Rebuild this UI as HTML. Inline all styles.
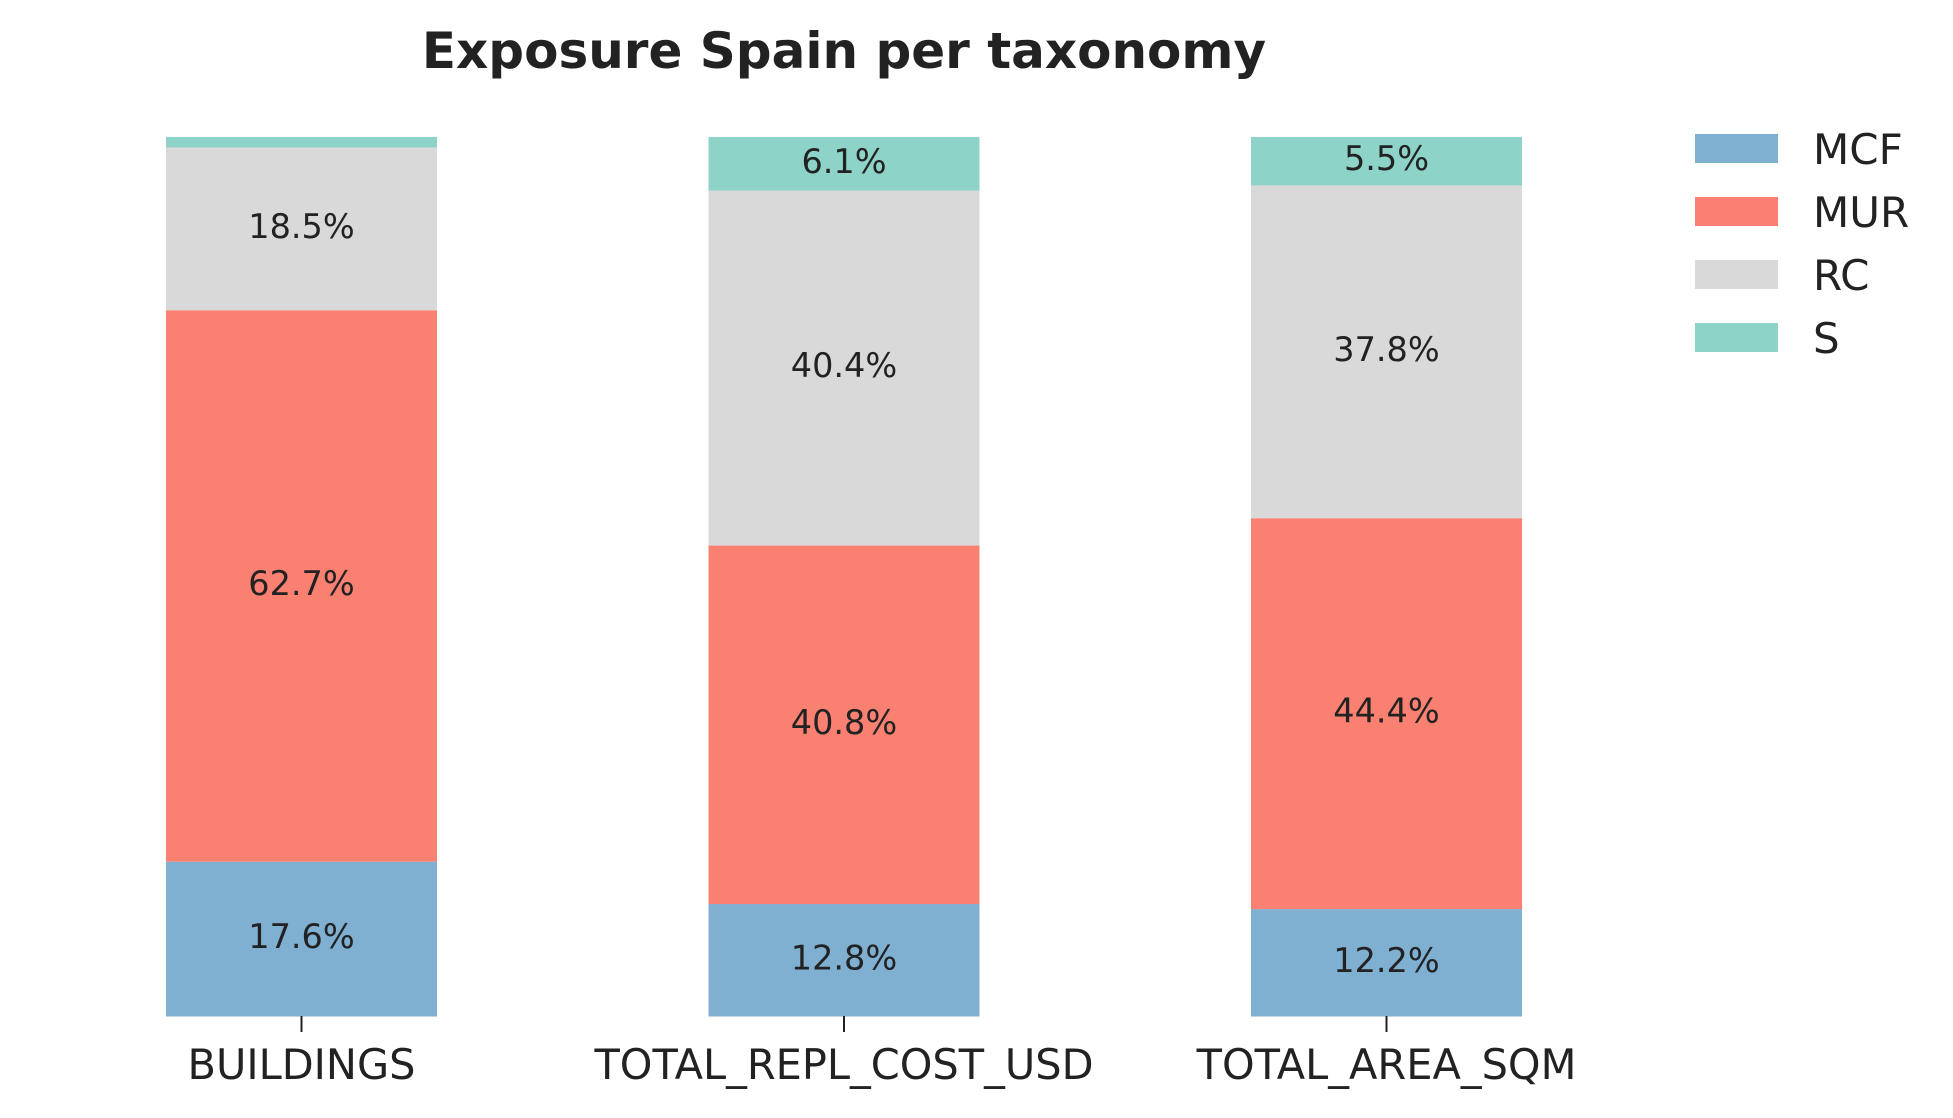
<!DOCTYPE html>
<html><head><meta charset="utf-8"><style>
body{margin:0;background:#fff;}
svg{display:block;font-family:"DejaVu Sans","Liberation Sans",sans-serif;}
</style></head><body>
<svg id="chart" width="1953" height="1118" viewBox="0 0 1953 1118">
<text x="844" y="68" text-anchor="middle" font-size="50" font-weight="bold" fill="#222">Exposure Spain per taxonomy</text>
<g id="bars"></g>
<g id="legend"></g>
</svg>
<script>
const categories = ["BUILDINGS", "TOTAL_REPL_COST_USD", "TOTAL_AREA_SQM"];
const seriesNames = ["MCF", "MUR", "RC", "S"];
const mcf = [17.6, 12.8, 12.2];
const mur = [62.7, 40.8, 44.4];
const rc = [18.5, 40.4, 37.8];
const s = [1.2, 6.1, 5.5];
const colors = ["#7fafd1", "#fa8072", "#d9d9d9", "#8dd3c7"];
(function(){
const NS = "http://www.w3.org/2000/svg";
const yBottom = 1016.5, yTop = 137;
const yScale = v => (yBottom - yTop) * v / 100;
const xCenter = i => 301.5 + i * 542.5;
const barW = 271;
const series = [mcf, mur, rc, s];
const gb = document.getElementById('bars');

function mk(tag, attrs) {
  const e = document.createElementNS(NS, tag);
  for (const k in attrs) e.setAttribute(k, attrs[k]);
  return e;
}

categories.forEach((cat, i) => {
  let total = 0;
  series.forEach(arr => total += arr[i]);
  let acc = 0;
  series.forEach((arr, j) => {
    const v = arr[i] / total * 100;
    const h = yScale(v);
    const y = yBottom - yScale(acc) - h;
    const r = mk('rect', {x: xCenter(i) - barW / 2, y: y, width: barW, height: h, fill: colors[j]});
    
    
    gb.appendChild(r);
    if (arr[i] >= 3) {
      const t = mk('text', {x: xCenter(i), y: y + h / 2 + 9, 'text-anchor': 'middle', 'font-size': 33.5, fill: '#222'});
      t.textContent = arr[i].toFixed(1) + '%';
      
      
      gb.appendChild(t);
    }
    acc += v;
  });
  const tick = mk('line', {x1: xCenter(i), x2: xCenter(i), y1: 1016, y2: 1032, stroke: '#222', 'stroke-width': 2});
  
  
  gb.appendChild(tick);
  const lab = mk('text', {x: xCenter(i), y: 1079, 'text-anchor': 'middle', 'font-size': 41.5, fill: '#222'});
  lab.textContent = cat;
  
  
  gb.appendChild(lab);
});

const gl = document.getElementById('legend');
seriesNames.forEach((n, j) => {
  const y = 134 + j * 63;
  const r = mk('rect', {x: 1695, y: y, width: 83, height: 29, fill: colors[j]});
  
  
  gl.appendChild(r);
  const t = mk('text', {x: 1813, y: y + 30, 'font-size': 42, fill: '#222'});
  t.textContent = n;
  
  
  gl.appendChild(t);
});
})();
</script>
</body></html>
